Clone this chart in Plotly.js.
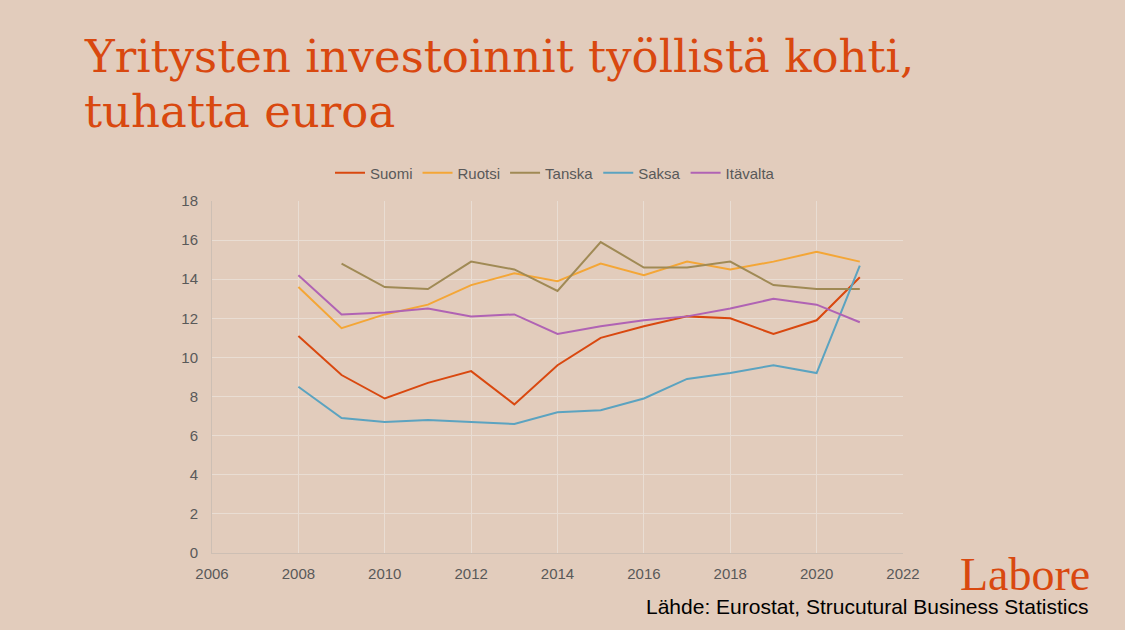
<!DOCTYPE html>
<html>
<head>
<meta charset="utf-8">
<script src="https://cdn.plot.ly/plotly-3.0.1.min.js"></script>
<style>
html,body{margin:0;padding:0;background:#E2CCBC;}
#chart{width:1125px;height:630px;}
</style>
</head>
<body>
<div id="chart"></div>
<script>
const years = [2008,2009,2010,2011,2012,2013,2014,2015,2016,2017,2018,2019,2020,2021];
const suomi    = [11.1,9.1,7.9,8.7,9.3,7.6,9.6,11.0,11.6,12.1,12.0,11.2,11.9,14.1];
const ruotsi   = [13.6,11.5,12.2,12.7,13.7,14.3,13.9,14.8,14.2,14.9,14.5,14.9,15.4,14.9];
const tanska   = [null,14.8,13.6,13.5,14.9,14.5,13.4,15.9,14.6,14.6,14.9,13.7,13.5,13.5];
const saksa    = [8.5,6.9,6.7,6.8,6.7,6.6,7.2,7.3,7.9,8.9,9.2,9.6,9.2,14.7];
const itavalta = [14.2,12.2,12.3,12.5,12.1,12.2,11.2,11.6,11.9,12.1,12.5,13.0,12.7,11.8];
const seriesNames = ['Suomi','Ruotsi','Tanska','Saksa','Itävalta'];
const seriesData = [suomi, ruotsi, tanska, saksa, itavalta];
const colors = ['#D9480F','#F4A636','#A08A55','#5BA3C0','#B063B4'];

const traces = seriesNames.map((n,i)=>({
  x: years, y: seriesData[i], name: n, type:'scatter', mode:'lines',
  line:{color:colors[i], width:2}, connectgaps:false
}));

// helpers: pixel -> paper coordinates (plot area: x 212..903, y 201..553)
const L=212, R=903, T=201, B=553;
const px = x => (x-L)/(R-L);
const py = y => (B-y)/(B-T);

const layout = {
  width:1125, height:630,
  paper_bgcolor:'#E2CCBC', plot_bgcolor:'#E2CCBC',
  margin:{l:L, r:1125-R, t:T, b:630-B},
  font:{family:'Liberation Sans, Arial, sans-serif', color:'#595959', size:15},
  showlegend:true,
  legend:{orientation:'h', x:px(555), xanchor:'center', y:py(173), yanchor:'middle',
    font:{size:15, color:'#595959'}, itemwidth:30, bgcolor:'rgba(0,0,0,0)'},
  xaxis:{range:[2006,2022], dtick:2, tick0:2006, showgrid:true, gridcolor:'#E9DDD3',
    zeroline:false, showline:true, linecolor:'#CDBFB4', ticks:'outside', ticklen:7,
    tickcolor:'rgba(0,0,0,0)', tickfont:{size:15,color:'#595959'}},
  yaxis:{range:[0,18], dtick:2, showgrid:true, gridcolor:'#E9DDD3', zeroline:false,
    showline:true, linecolor:'#CDBFB4', ticks:'outside', ticklen:10,
    tickcolor:'rgba(0,0,0,0)', tickfont:{size:15,color:'#595959'}},
  annotations:[
    {text:'Yritysten investoinnit työllistä kohti,', xref:'paper', yref:'paper',
      x:px(82), y:py(57), xanchor:'left', yanchor:'middle', showarrow:false, align:'left',
      font:{family:'DejaVu Serif, Georgia, serif', size:45, color:'#D9480F'}},
    {text:'tuhatta euroa', xref:'paper', yref:'paper',
      x:px(82), y:py(111), xanchor:'left', yanchor:'middle', showarrow:false, align:'left',
      font:{family:'DejaVu Serif, Georgia, serif', size:45, color:'#D9480F'}},
    {text:'Labore', xref:'paper', yref:'paper', x:px(1025), y:py(574), xanchor:'center', yanchor:'middle',
      showarrow:false, font:{family:'Liberation Serif, serif', size:46, color:'#D9480F'}},
    {text:'Lähde: Eurostat, Strucutural Business Statistics', xref:'paper', yref:'paper',
      x:px(1090), y:py(606), xanchor:'right', yanchor:'middle', showarrow:false,
      font:{family:'Liberation Sans, Arial, sans-serif', size:21, color:'#000000'}}
  ]
};
Plotly.newPlot('chart', traces, layout, {displayModeBar:false, staticPlot:true});
</script>
</body>
</html>
